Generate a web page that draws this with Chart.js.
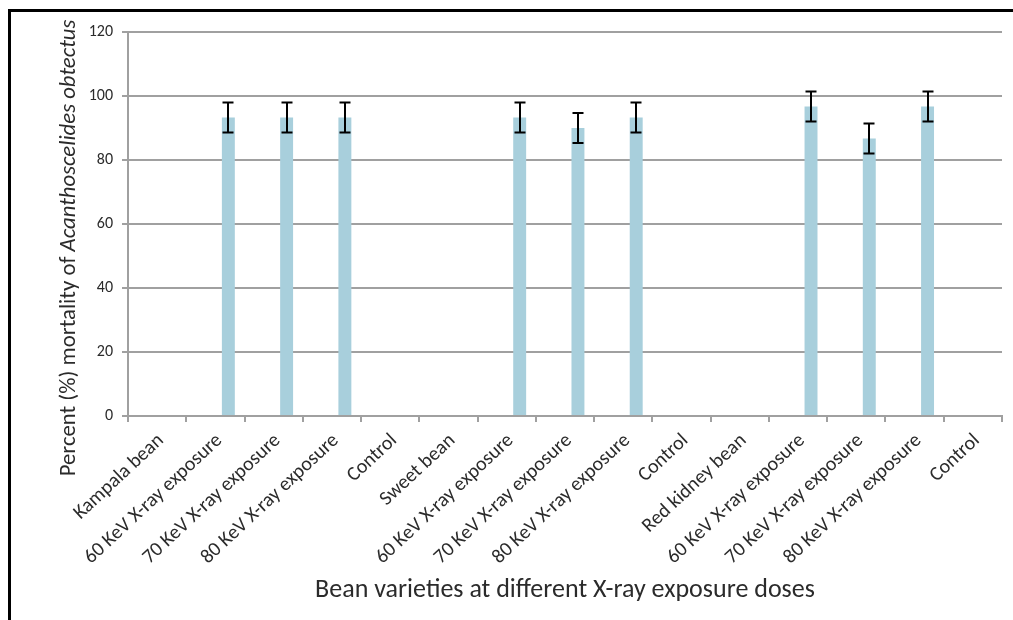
<!DOCTYPE html>
<html><head><meta charset="utf-8">
<script src="https://cdn.jsdelivr.net/npm/chart.js@4/dist/chart.umd.min.js"></script>
<style>html,body{margin:0;padding:0;background:#fff}#wrap{width:1013px;height:620px;position:relative}canvas{display:block}</style>
</head><body><div id="wrap"><canvas id="c" width="1013" height="620"></canvas></div>
<script>
// ---- data ----
const categories = [
  'Kampala bean', '60 KeV X-ray exposure', '70 KeV X-ray exposure', '80 KeV X-ray exposure', 'Control',
  'Sweet bean', '60 KeV X-ray exposure', '70 KeV X-ray exposure', '80 KeV X-ray exposure', 'Control',
  'Red kidney bean', '60 KeV X-ray exposure', '70 KeV X-ray exposure', '80 KeV X-ray exposure', 'Control'
];
// two empty series of the original workbook (they only shift the visible bars)
const emptySeriesA = [null,null,null,null,null,null,null,null,null,null,null,null,null,null,null];
const emptySeriesB = [null,null,null,null,null,null,null,null,null,null,null,null,null,null,null];
const mortality    = [null, 93.3, 93.3, 93.3, 0, null, 93.3, 90.0, 93.3, 0, null, 96.7, 86.7, 96.7, 0];
const errorMargins = [null, 4.7, 4.7, 4.7, 0, null, 4.7, 4.7, 4.7, 0, null, 4.7, 4.7, 4.7, 0];
const yTickValues = [0, 20, 40, 60, 80, 100, 120];
const yTitleNormal = 'Percent (%) mortality of ';
const yTitleItalic = 'Acanthoscelides obtectus';
const xTitle = 'Bean varieties at different X-ray exposure doses';

// ---- styling ----
const FONT = 'Carlito, Calibri, Lato, "Noto Sans", sans-serif';
const TEXT = '#2b2b2b';
const GRID = '#a0a0a0';

const framePlugin = {
  id: 'frame',
  beforeDraw(chart) {
    const ctx = chart.ctx;
    ctx.save();
    ctx.fillStyle = '#fff';
    ctx.fillRect(0, 0, chart.width, chart.height);
    ctx.fillStyle = '#000';
    ctx.fillRect(8, 9, chart.width - 8, 3);
    ctx.fillRect(8, 9, 3, chart.height - 9);
    ctx.restore();
  },
  afterDraw(chart) {
    const ctx = chart.ctx;
    ctx.save();
    ctx.fillStyle = TEXT;
    // y title (mixed roman / italic)
    const base = 20;
    ctx.font = base + 'px ' + FONT;
    let w1 = ctx.measureText(yTitleNormal).width;
    ctx.font = 'italic ' + base + 'px ' + FONT;
    let w2 = ctx.measureText(yTitleItalic).width;
    const ySize = base * 457 / (w1 + w2);
    ctx.translate(69, 248);
    ctx.rotate(-Math.PI / 2);
    ctx.textBaseline = 'middle';
    ctx.textAlign = 'left';
    ctx.font = ySize + 'px ' + FONT;
    w1 = ctx.measureText(yTitleNormal).width;
    ctx.font = 'italic ' + ySize + 'px ' + FONT;
    w2 = ctx.measureText(yTitleItalic).width;
    const start = -(w1 + w2) / 2;
    ctx.font = ySize + 'px ' + FONT;
    ctx.fillText(yTitleNormal, start, 0);
    ctx.font = 'italic ' + ySize + 'px ' + FONT;
    ctx.fillText(yTitleItalic, start + w1, 0);
    ctx.setTransform(1, 0, 0, 1, 0, 0);
    // x title
    ctx.font = base + 'px ' + FONT;
    const wx = ctx.measureText(xTitle).width;
    const xSize = base * 500 / wx;
    ctx.font = xSize + 'px ' + FONT;
    ctx.textAlign = 'center';
    ctx.textBaseline = 'middle';
    ctx.fillText(xTitle, 565, 590);
    ctx.restore();
  }
};

const errorBarPlugin = {
  id: 'errorBars',
  afterDatasetsDraw(chart) {
    const meta = chart.getDatasetMeta(2);
    const ys = chart.scales.y;
    const ctx = chart.ctx;
    ctx.save();
    ctx.strokeStyle = '#000';
    ctx.lineWidth = 2;
    meta.data.forEach((bar, i) => {
      const v = mortality[i], e = errorMargins[i];
      if (v == null || !e) return;
      const x = Math.round(bar.x);
      const yt = ys.getPixelForValue(v + e);
      const yb = ys.getPixelForValue(v - e);
      ctx.beginPath();
      ctx.moveTo(x, yt); ctx.lineTo(x, yb);
      ctx.moveTo(x - 5.5, yt); ctx.lineTo(x + 5.5, yt);
      ctx.moveTo(x - 5.5, yb); ctx.lineTo(x + 5.5, yb);
      ctx.stroke();
    });
    ctx.restore();
  }
};

new Chart(document.getElementById('c'), {
  type: 'bar',
  data: {
    labels: categories,
    datasets: [
      { label: 'Series A', data: emptySeriesA, backgroundColor: '#a8cfdc' },
      { label: 'Series B', data: emptySeriesB, backgroundColor: '#a8cfdc' },
      { label: 'Mortality', data: mortality, backgroundColor: '#a8cfdc' }
    ]
  },
  options: {
    responsive: false,
    animation: false,
    devicePixelRatio: 1,
    categoryPercentage: 3 / 4.5,
    barPercentage: 1,
    layout: { padding: { left: 0, top: 32, right: 11, bottom: 0 } },
    plugins: { legend: { display: false }, tooltip: { enabled: false } },
    scales: {
      x: {
        grid: { display: true, drawOnChartArea: false, drawTicks: true, tickLength: 6, color: GRID, lineWidth: 2, offset: true },
        border: { display: true, color: GRID, width: 2 },
        ticks: { autoSkip: false, maxRotation: 43, minRotation: 43, color: TEXT, font: { family: FONT, size: 20 }, padding: 7, labelOffset: 4 },
        afterFit(scale) { scale.height = 204; }
      },
      y: {
        min: yTickValues[0],
        max: yTickValues[yTickValues.length - 1],
        grid: { color: GRID, lineWidth: 2, tickLength: 6, drawTicks: true },
        border: { display: true, color: GRID, width: 2 },
        ticks: { stepSize: yTickValues[1] - yTickValues[0], color: TEXT, font: { family: FONT, size: 16 }, padding: 9 },
        afterFit(scale) { scale.width = 128; }
      }
    }
  },
  plugins: [framePlugin, errorBarPlugin]
});
</script>
</body></html>
